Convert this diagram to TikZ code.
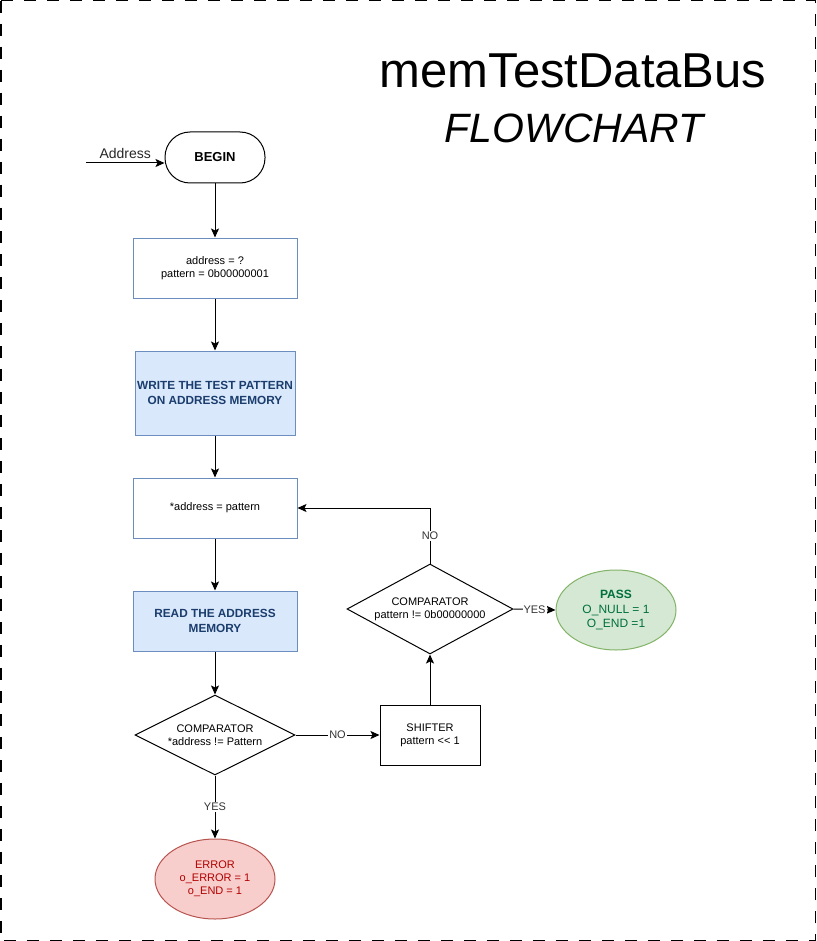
\documentclass[tikz,border=0pt]{standalone}
\usepackage{fontspec}
\setmainfont{Liberation Sans}
\usetikzlibrary{positioning, arrows.meta, shapes.geometric}
\definecolor{actfill}{HTML}{DAE8FC}
\definecolor{actline}{HTML}{6C8EBF}
\definecolor{acttext}{HTML}{1A3D6D}
\definecolor{passfill}{HTML}{D5E8D4}
\definecolor{passline}{HTML}{82B366}
\definecolor{passtext}{HTML}{00703C}
\definecolor{errfill}{HTML}{F8CECC}
\definecolor{errline}{HTML}{B85450}
\definecolor{errtext}{HTML}{B20000}
\newcommand{\fs}[1]{\fontsize{#1}{1.2\dimexpr#1pt\relax}\selectfont}
\tikzset{
  termbox/.style  = {rectangle, rounded corners=25pt, draw=black, line width=1pt, fill=white,
                     minimum width=100pt, minimum height=51pt, font=\fs{13}\bfseries},
  plainbox/.style = {rectangle, draw=actline, line width=1pt, fill=white, align=center,
                     minimum width=164pt, minimum height=60pt, font=\fs{11}},
  actbox/.style   = {rectangle, draw=actline, line width=1pt, fill=actfill, align=center, inner xsep=0pt,
                     minimum width=160pt, minimum height=60pt, font=\fs{11.8}\bfseries, text=acttext},
  decide/.style   = {diamond, draw=black, line width=1pt, fill=white, align=center, inner sep=0pt,
                     font=\fs{11}},
  shiftbox/.style = {rectangle, draw=black, line width=1pt, fill=white, align=center,
                     minimum width=100pt, minimum height=60pt, font=\fs{11}},
  passnode/.style = {ellipse, draw=passline, line width=1pt, fill=passfill, align=center, inner sep=0pt,
                     minimum width=120pt, minimum height=80pt, font=\fs{12}, text=passtext},
  errnode/.style  = {ellipse, draw=errline, line width=1pt, fill=errfill, align=center, inner sep=0pt,
                     minimum width=120pt, minimum height=80pt, font=\fs{11}, text=errtext},
  flow/.style     = {line width=1pt, -{Stealth[length=9pt, width=8pt, inset=2pt]}, draw=black},
  edgelbl/.style  = {font=\fs{11}, fill=white, inner sep=1pt, text=black!80},
}

\begin{document}
\begin{tikzpicture}[x=1pt, y=-1pt]
\useasboundingbox (0,0) rectangle (816,941);

% =============== FRAME AND TITLE ===============
\draw[line width=1.5pt, dash pattern=on 12pt off 11pt] (0.75,0.75) rectangle (815.25,940.25);
\node (title) at (573,71)  {\fs{49}memTestDataBus};
\node (sub)   at (574,128) {\fs{41}\itshape FLOWCHART};

% =============== MAIN COLUMN ===============
\node (begin)  [termbox]  at (215,157.5) {BEGIN};
\node (init)   [plainbox] at (215,268) {address = ?\\pattern = 0b00000001};
\node (write)  [actbox, minimum height=84pt] at (215,393) {WRITE THE TEST PATTERN\\ON ADDRESS MEMORY};
\node (assign) [plainbox] at (215,508) {*address = pattern};
\node (read)   [actbox, minimum width=164pt] at (215,621) {READ THE ADDRESS\\MEMORY};
\node (cmp1)   [decide, aspect=2, minimum width=160pt, minimum height=80pt] at (215,735)
  {COMPARATOR\\*address != Pattern};
\node (error)  [errnode] at (215,879) {ERROR\\o\_ERROR = 1\\o\_END = 1};

% =============== SHIFT LOOP ===============
\node (shifter) [shiftbox] at (430,735) {SHIFTER\\pattern {<}{<} 1};
\node (cmp2)    [decide, aspect=1.84, minimum width=166pt, minimum height=90pt] at (430,609)
  {COMPARATOR\\pattern != 0b00000000};
\node (pass)    [passnode] at (616,610) {\textbf{PASS}\\O\_NULL = 1\\O\_END =1};

% =============== CONNECTORS ===============
\coordinate (addr) at (86,163);
\draw[flow] (addr) -- node (addrlbl) [above=1pt, font=\fs{14}, text=black!85] {Address} (begin.west |- addr);
\draw[flow] (begin) -- (init);
\draw[flow] (init) -- (write);
\draw[flow] (write) -- (assign);
\draw[flow] (assign) -- (read);
\draw[flow] (read) -- (cmp1);
\draw[flow] (cmp1) -- node (yes1) [edgelbl] {YES} (error);
\draw[flow] (cmp1) -- node (no1) [edgelbl] {NO} (shifter);
\draw[flow] (shifter) -- (cmp2);
\draw[flow] (cmp2.north) |- node (no2) [edgelbl, pos=0.25] {NO} (assign.east);
\draw[flow] (cmp2.east) -- node (yes2) [edgelbl] {YES} (pass.west);

\end{tikzpicture}
\end{document}
